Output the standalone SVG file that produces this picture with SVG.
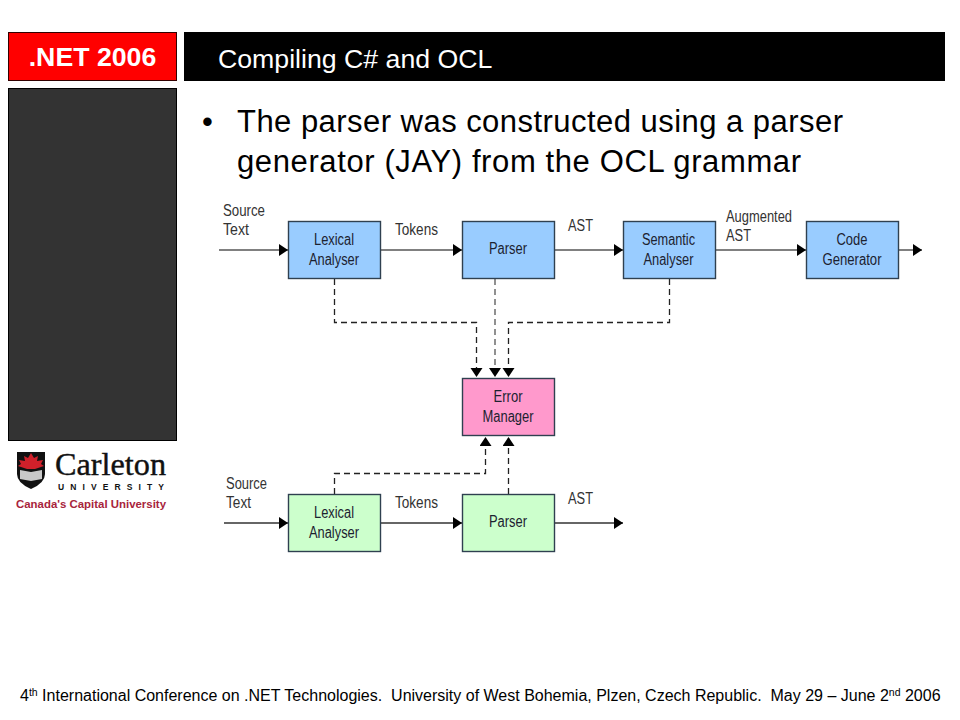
<svg xmlns="http://www.w3.org/2000/svg" width="960" height="720" viewBox="0 0 960 720">
<style>
text{font-family:"Liberation Sans",Arial,sans-serif}
.lbl{font-size:16px;fill:#333;text-anchor:start}
.nt{font-size:16px;fill:#1c2230;text-anchor:middle}
.box{stroke:#2f4050;stroke-width:1.4}
.blue{fill:#99ccff}.green{fill:#ccffcc}.pink{fill:#ff99cc}
.sol{fill:none;stroke:#333;stroke-width:1.3}
.gray{fill:none;stroke:#808080;stroke-width:2}
.dash{fill:none;stroke:#222;stroke-width:1.3;stroke-dasharray:6 4}
.dashg{fill:none;stroke:#909090;stroke-width:2;stroke-dasharray:6 4}
</style>
<defs>
<marker id="a" markerUnits="userSpaceOnUse" markerWidth="10" markerHeight="13" refX="9" refY="6" orient="auto"><path d="M0 0L9 6L0 12Z" fill="#000"/></marker>
</defs>
<rect width="960" height="720" fill="#fff"/>
<g id="header-net"><rect x="8.500" y="32.500" width="168" height="48" fill="#ff0000" stroke="#300" stroke-width="1"/><text x="92.500" y="66" font-size="26.700" font-weight="700" fill="#fff" text-anchor="middle">.NET 2006</text></g>
<g id="header-title"><rect x="184" y="32" width="761" height="49" fill="#000"/><text x="218" y="68" font-size="26.700" fill="#fff">Compiling C# and OCL</text></g>
<rect id="side-panel" x="8.500" y="88.500" width="168" height="352" fill="#333" stroke="#000" stroke-width="1"/>
<g id="bullet"><text x="202" y="132" font-size="31" fill="#000">•</text><text x="237" y="132" font-size="31" fill="#000" textLength="606" lengthAdjust="spacing">The parser was constructed using a parser</text><text x="237" y="172" font-size="31" fill="#000" textLength="564" lengthAdjust="spacing">generator (JAY) from the OCL grammar</text></g>
<g id="logo">
<path d="M17 452H45V474Q45 483 31 489Q17 483 17 474Z" fill="#111"/>
<path d="M31 453L34 458L38 456L37 461L43 460L41 464L44 466L35 469H27L18 466L21 464L19 460L25 461L24 456L28 458Z" fill="#d0202a"/>
<path d="M20 470L31 472L42 470V479L31 481L20 479Z" fill="#c8c8c8"/>
<text x="55" y="474.500" font-size="32" fill="#111" stroke="#111" stroke-width="0.400" textLength="111" lengthAdjust="spacingAndGlyphs" style="font-family:'Liberation Serif',serif">Carleton</text>
<text x="58" y="490" font-size="8.500" font-weight="700" fill="#111" textLength="106">UNIVERSITY</text>
<text x="16" y="508" font-size="11" font-weight="700" fill="#a8243c" textLength="150" lengthAdjust="spacingAndGlyphs">Canada's Capital University</text>
</g>
<g id="connectors">
<path class="gray" d="M219 250H288" marker-end="url(#a)"/>
<path class="gray" d="M381 250H462" marker-end="url(#a)"/>
<path class="gray" d="M554 250H623" marker-end="url(#a)"/>
<path class="gray" d="M716 250H806" marker-end="url(#a)"/>
<path class="gray" d="M899 250H922" marker-end="url(#a)"/>
<path class="dash" d="M334.500 279V322.500H476.500V377" marker-end="url(#a)"/>
<path class="dashg" d="M495 279V377" marker-end="url(#a)"/>
<path class="dash" d="M669.500 279V322.500H508.500V377" marker-end="url(#a)"/>
<path class="dash" d="M334.500 494V473.500H485.500V437" marker-end="url(#a)"/>
<path class="dash" d="M508.500 494V437" marker-end="url(#a)"/>
<path class="sol" d="M224 523H288" marker-end="url(#a)"/>
<path class="sol" d="M381 523H462" marker-end="url(#a)"/>
<path class="sol" d="M554 523H623" marker-end="url(#a)"/>
</g>
<g id="labels">
<text class="lbl" x="223" y="216" textLength="42" lengthAdjust="spacingAndGlyphs">Source</text><text class="lbl" x="223" y="235" textLength="26" lengthAdjust="spacingAndGlyphs">Text</text>
<text class="lbl" x="395" y="235" textLength="43" lengthAdjust="spacingAndGlyphs">Tokens</text>
<text class="lbl" x="568" y="231" textLength="25" lengthAdjust="spacingAndGlyphs">AST</text>
<text class="lbl" x="726" y="222" textLength="66" lengthAdjust="spacingAndGlyphs">Augmented</text><text class="lbl" x="726" y="241" textLength="25" lengthAdjust="spacingAndGlyphs">AST</text>
<text class="lbl" x="226" y="489" textLength="41" lengthAdjust="spacingAndGlyphs">Source</text><text class="lbl" x="226" y="508" textLength="25" lengthAdjust="spacingAndGlyphs">Text</text>
<text class="lbl" x="395" y="508" textLength="43" lengthAdjust="spacingAndGlyphs">Tokens</text>
<text class="lbl" x="568" y="504" textLength="25" lengthAdjust="spacingAndGlyphs">AST</text>
</g>
<g id="lexical-1"><rect class="box blue" x="288.500" y="221.500" width="92" height="57"/><text class="nt" x="334" y="245" textLength="40" lengthAdjust="spacingAndGlyphs">Lexical</text><text class="nt" x="334" y="265" textLength="50" lengthAdjust="spacingAndGlyphs">Analyser</text></g>
<g id="parser-1"><rect class="box blue" x="462.500" y="221.500" width="92" height="57"/><text class="nt" x="508" y="254" textLength="38" lengthAdjust="spacingAndGlyphs">Parser</text></g>
<g id="semantic"><rect class="box blue" x="623.500" y="221.500" width="92" height="57"/><text class="nt" x="668.500" y="245" textLength="53" lengthAdjust="spacingAndGlyphs">Semantic</text><text class="nt" x="668.500" y="265" textLength="50" lengthAdjust="spacingAndGlyphs">Analyser</text></g>
<g id="codegen"><rect class="box blue" x="806.500" y="221.500" width="92" height="57"/><text class="nt" x="852" y="245" textLength="31" lengthAdjust="spacingAndGlyphs">Code</text><text class="nt" x="852" y="265" textLength="59" lengthAdjust="spacingAndGlyphs">Generator</text></g>
<g id="error"><rect class="box pink" x="462.500" y="378.500" width="92" height="57"/><text class="nt" x="508" y="402" textLength="29" lengthAdjust="spacingAndGlyphs">Error</text><text class="nt" x="508" y="422" textLength="51" lengthAdjust="spacingAndGlyphs">Manager</text></g>
<g id="lexical-2"><rect class="box green" x="288.500" y="494.500" width="92" height="57"/><text class="nt" x="334" y="518" textLength="40" lengthAdjust="spacingAndGlyphs">Lexical</text><text class="nt" x="334" y="538" textLength="50" lengthAdjust="spacingAndGlyphs">Analyser</text></g>
<g id="parser-2"><rect class="box green" x="462.500" y="494.500" width="92" height="57"/><text class="nt" x="508" y="527" textLength="38" lengthAdjust="spacingAndGlyphs">Parser</text></g>
<text id="footer" x="20" y="701" font-size="16" fill="#000" style="white-space:pre">4<tspan font-size="10.500" dy="-5">th</tspan><tspan dy="5"> International Conference on .NET Technologies.  University of West Bohemia, Plzen, Czech Republic.  May 29 – June 2</tspan><tspan font-size="10.500" dy="-5">nd</tspan><tspan dy="5"> 2006</tspan></text>
</svg>
